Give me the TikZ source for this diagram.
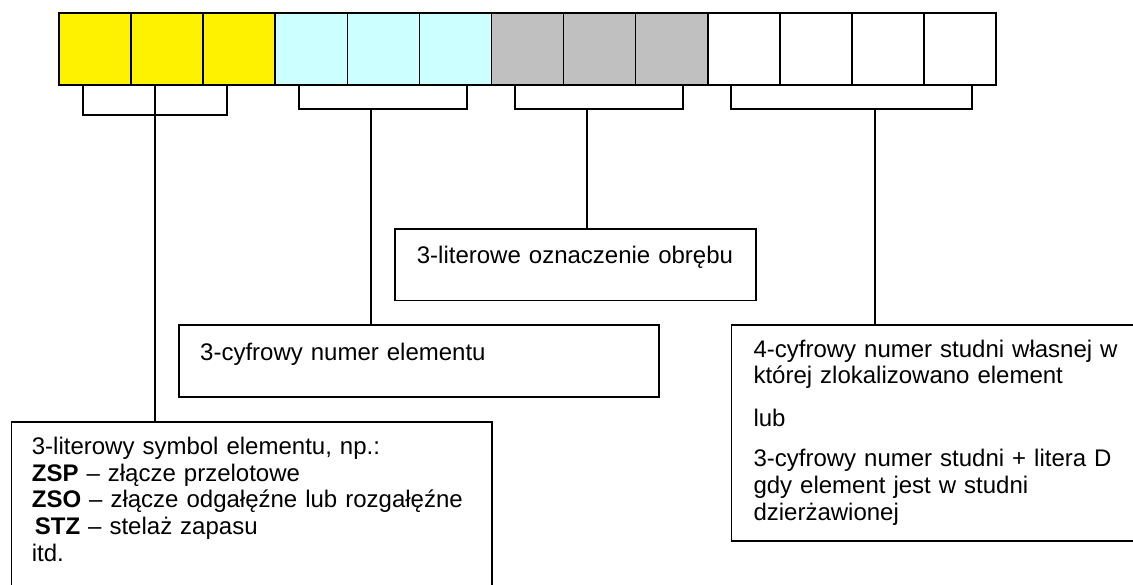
\documentclass[tikz,border=0pt]{standalone}
\usepackage{fontspec}
\setmainfont{Liberation Sans}
\usepackage{tikz}
\usetikzlibrary{calc}

\definecolor{zolty}{RGB}{255,242,0}
\definecolor{turkus}{RGB}{204,255,255}
\definecolor{szary}{RGB}{192,192,192}

\tikzset{
	komorka/.style={draw, line width=1.6pt, minimum width=72.08pt, minimum height=71.7pt, inner sep=0pt, outer sep=0pt, anchor=north west},
	ramka/.style={draw, line width=1.6pt, inner sep=0pt, outer sep=0pt, anchor=north west},
	opis/.style={anchor=base west, inner sep=0pt, align=left, text width=440pt, font=\fontsize{24}{26.7}\selectfont},
	klamra/.style={line width=1.5pt}
}

\begin{document}
\begin{tikzpicture}
				\begin{scope}[x=1pt, y=-1pt]
					
					\useasboundingbox (0,0) rectangle (1133,585);
					
					\node[komorka, fill=zolty] (sym1) at (59,13.3) {};
					\node[komorka, fill=zolty] (sym2) at (131.08,13.3) {};
					\node[komorka, fill=zolty] (sym3) at (203.16,13.3) {};
					\node[komorka, fill=turkus] (num1) at (275.24,13.3) {};
					\node[komorka, fill=turkus] (num2) at (347.32,13.3) {};
					\node[komorka, fill=turkus] (num3) at (419.4,13.3) {};
					\node[komorka, fill=szary] (obr1) at (491.48,13.3) {};
					\node[komorka, fill=szary] (obr2) at (563.56,13.3) {};
					\node[komorka, fill=szary] (obr3) at (635.64,13.3) {};
					\node[komorka, fill=white] (stu1) at (707.72,13.3) {};
					\node[komorka, fill=white] (stu2) at (779.8,13.3) {};
					\node[komorka, fill=white] (stu3) at (851.88,13.3) {};
					\node[komorka, fill=white] (stu4) at (923.96,13.3) {};
					
					
					
					\node[ramka, minimum width=361pt, minimum height=71.7pt] (obreb) at (395,229) {};
					\node[opis] (tobreb) at (416.7,264) {3-literowe oznaczenie obrębu};
					
					\node[ramka, minimum width=480pt, minimum height=71.7pt] (element) at (179,325) {};
					\node[opis] (telement) at (200,360.7) {3-cyfrowy numer elementu};
					
					\node[ramka, minimum width=480.5pt, minimum height=200pt] (symbol) at (11.5,422) {};
					\node[opis] (tsymbol) at (31.7,454.3) {3-literowy symbol elementu, np.:\\
						\textbf{ZSP} – złącze przelotowe\\
						\textbf{ZSO} – złącze odgałęźne lub rozgałęźne\\
						\hspace{3pt}\textbf{STZ} – stelaż zapasu\\
						itd.};
					
					\node[ramka, minimum width=420pt, minimum height=215.7pt] (studnia) at (731.5,325) {};
					\node[opis] (tstudnia) at (753.3,357.3) {4-cyfrowy numer studni własnej w\\
						której zlokalizowano element\\[16pt]
						lub\\[13.3pt]
						3-cyfrowy numer studni + litera D\\
						gdy element jest w studni\\
						dzierżawionej};
					
					
					
					\coordinate (k1l) at (83,85);
					\coordinate (k1p) at (227,85);
					\coordinate (k1s) at (155,85);
					\coordinate (k2l) at (299,85);
					\coordinate (k2p) at (467,85);
					\coordinate (k2s) at (371,109);
					\coordinate (k3l) at (515,85);
					\coordinate (k3p) at (683,85);
					\coordinate (k3s) at (587,109);
					\coordinate (k4l) at (731,85);
					\coordinate (k4p) at (972,85);
					\coordinate (k4s) at (875,109);
					
					\draw[klamra] (k1l) -- ++(0,30) -| (k1p);
					\draw[klamra] (k1s) -- (k1s |- symbol.north);
					
					\draw[klamra] (k2l) -- ++(0,24) -| (k2p);
					\draw[klamra] (k2s) -- (k2s |- element.north);
					
					\draw[klamra] (k3l) -- ++(0,24) -| (k3p);
					\draw[klamra] (k3s) -- (k3s |- obreb.north);
					
					\draw[klamra] (k4l) -- ++(0,24) -| (k4p);
					\draw[klamra] (k4s) -- (k4s |- studnia.north);
					
				\end{scope}
			\end{tikzpicture}
\end{document}
